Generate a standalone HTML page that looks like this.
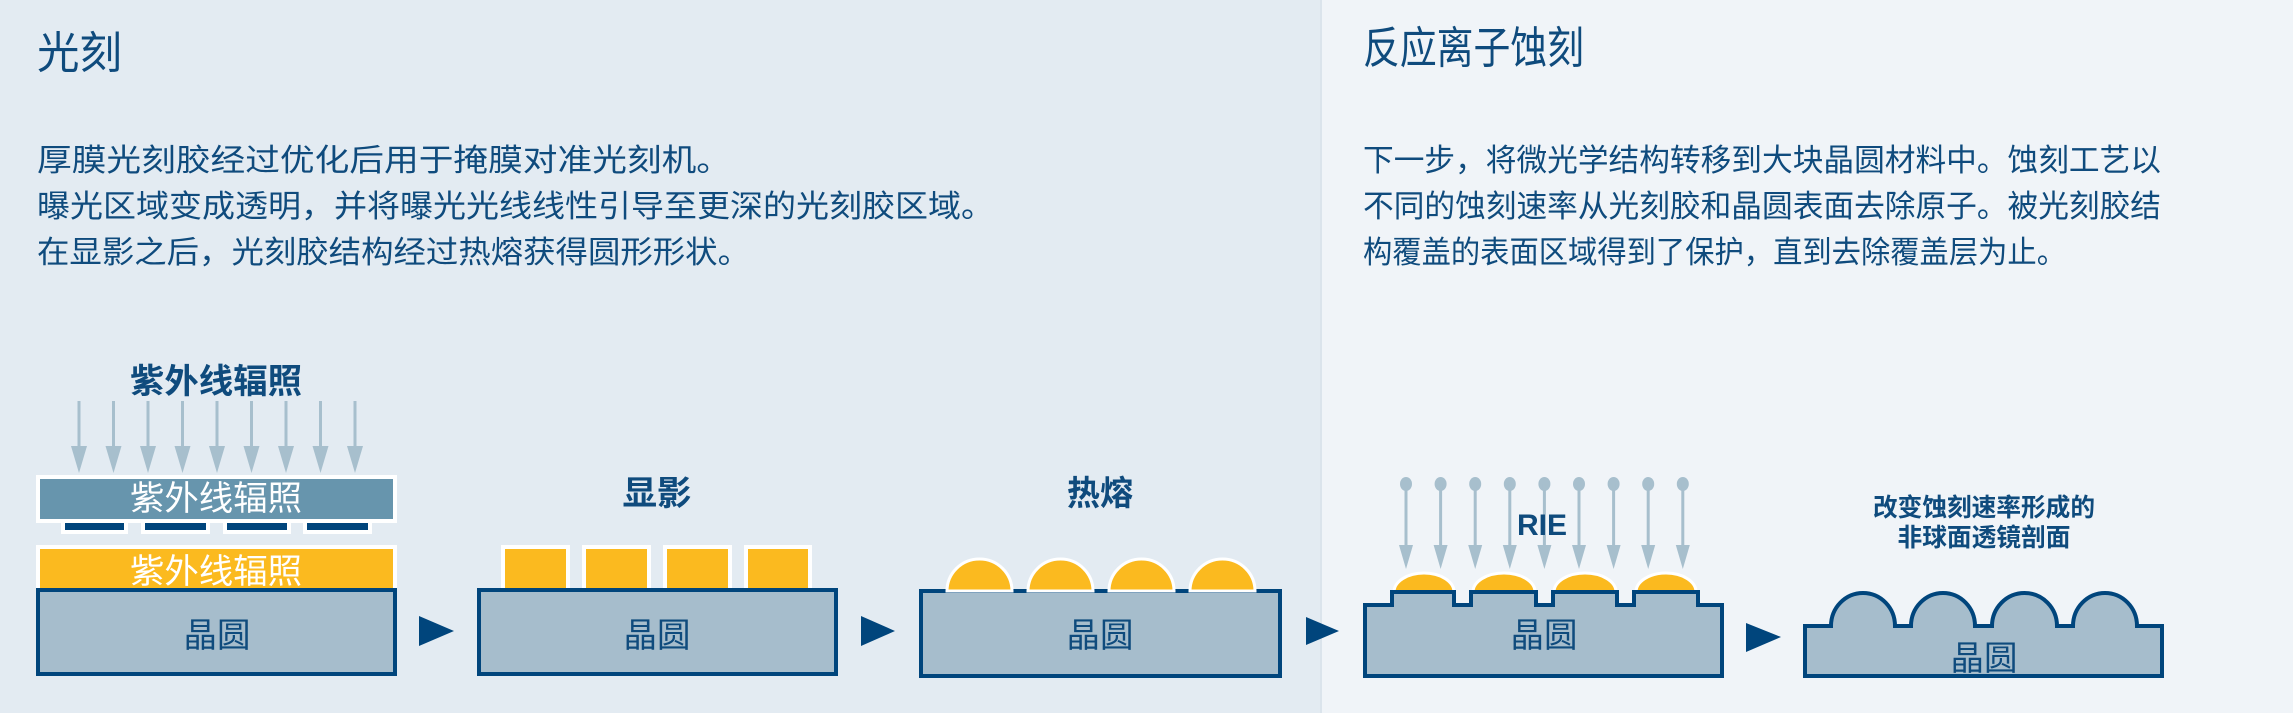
<!DOCTYPE html>
<html><head><meta charset="utf-8"><style>
html,body{margin:0;padding:0;width:2293px;height:713px;overflow:hidden}
svg{display:block}
text{font-family:"Liberation Sans","Noto Sans CJK SC",sans-serif}
</style></head><body>
<svg width="2293" height="713" viewBox="0 0 2293 713" xmlns="http://www.w3.org/2000/svg">
<rect x="0" y="0" width="1321" height="713" fill="#e3ebf2"/>
<rect x="1321" y="0" width="972" height="713" fill="#f0f4f8"/>
<rect x="1320" y="0" width="2" height="713" fill="#dbe4ec"/>

<g fill="#0f4b7d">
<text x="37" y="68" font-size="44" textLength="85" lengthAdjust="spacingAndGlyphs">光刻</text>
<text x="37" y="171" font-size="31" textLength="694" lengthAdjust="spacingAndGlyphs">厚膜光刻胶经过优化后用于掩膜对准光刻机。</text>
<text x="37" y="217" font-size="31" textLength="957" lengthAdjust="spacingAndGlyphs">曝光区域变成透明，并将曝光光线线性引导至更深的光刻胶区域。</text>
<text x="37" y="263" font-size="31" textLength="713" lengthAdjust="spacingAndGlyphs">在显影之后，光刻胶结构经过热熔获得圆形形状。</text>
<text x="1363" y="63" font-size="44" textLength="221" lengthAdjust="spacingAndGlyphs">反应离子蚀刻</text>
<text x="1363" y="171" font-size="31" textLength="798" lengthAdjust="spacingAndGlyphs">下一步，将微光学结构转移到大块晶圆材料中。蚀刻工艺以</text>
<text x="1363" y="217" font-size="31" textLength="798" lengthAdjust="spacingAndGlyphs">不同的蚀刻速率从光刻胶和晶圆表面去除原子。被光刻胶结</text>
<text x="1363" y="263" font-size="31" textLength="703" lengthAdjust="spacingAndGlyphs">构覆盖的表面区域得到了保护，直到去除覆盖层为止。</text>
</g>

<!-- Step 1 -->
<text x="216" y="393" font-size="34" font-weight="bold" fill="#0f4b7d" text-anchor="middle" textLength="172" lengthAdjust="spacingAndGlyphs">紫外线辐照</text>
<g fill="#a7bfcd" stroke="none">
<g id="uv">
<rect x="77.5" y="401" width="3" height="48"/><polygon points="71,446 87,446 79,473"/>
</g>
<use href="#uv" x="34.5"/><use href="#uv" x="69"/><use href="#uv" x="103.5"/><use href="#uv" x="138"/>
<use href="#uv" x="172.5"/><use href="#uv" x="207"/><use href="#uv" x="241.5"/><use href="#uv" x="276"/>
</g>
<rect x="36" y="475" width="361" height="48" fill="#fff"/>
<rect x="40" y="479" width="353" height="40" fill="#6795ad"/>
<text x="216" y="510" font-size="34" fill="#fff" text-anchor="middle" textLength="172" lengthAdjust="spacingAndGlyphs">紫外线辐照</text>
<g fill="#fff">
<rect x="61" y="523" width="67" height="11"/><rect x="141" y="523" width="69" height="11"/>
<rect x="223" y="523" width="68" height="11"/><rect x="303" y="523" width="69" height="11"/>
</g>
<g fill="#00457c">
<rect x="65" y="523" width="59" height="7"/><rect x="145" y="523" width="61" height="7"/>
<rect x="227" y="523" width="60" height="7"/><rect x="307" y="523" width="61" height="7"/>
</g>
<rect x="36" y="545" width="361" height="45" fill="#fff"/>
<rect x="40" y="549" width="353" height="41" fill="#fbba1f"/>
<text x="216" y="583" font-size="34" fill="#fff" text-anchor="middle" textLength="172" lengthAdjust="spacingAndGlyphs">紫外线辐照</text>
<rect x="38" y="590" width="357" height="84" fill="#a6bdcc" stroke="#00457c" stroke-width="4"/>
<text x="217" y="647" font-size="34" fill="#0f4b7d" text-anchor="middle" textLength="67" lengthAdjust="spacingAndGlyphs">晶圆</text>
<polygon points="419,616 454,631 419,646" fill="#00457c"/>

<!-- Step 2 -->
<text x="657" y="505" font-size="34" font-weight="bold" fill="#0f4b7d" text-anchor="middle" textLength="69" lengthAdjust="spacingAndGlyphs">显影</text>
<g fill="#fff">
<rect x="501" y="545" width="69" height="45"/><rect x="582" y="545" width="69" height="45"/>
<rect x="663" y="545" width="69" height="45"/><rect x="744" y="545" width="68" height="45"/>
</g>
<g fill="#fbba1f">
<rect x="505" y="549" width="61" height="41"/><rect x="586" y="549" width="61" height="41"/>
<rect x="667" y="549" width="61" height="41"/><rect x="748" y="549" width="60" height="41"/>
</g>
<rect x="479" y="590" width="357" height="84" fill="#a6bdcc" stroke="#00457c" stroke-width="4"/>
<text x="657" y="647" font-size="34" fill="#0f4b7d" text-anchor="middle" textLength="67" lengthAdjust="spacingAndGlyphs">晶圆</text>
<polygon points="861,616 895,631 861,646" fill="#00457c"/>

<!-- Step 3 -->
<text x="1100" y="505" font-size="34" font-weight="bold" fill="#0f4b7d" text-anchor="middle" textLength="66" lengthAdjust="spacingAndGlyphs">热熔</text>
<rect x="921" y="591" width="359" height="85" fill="#a6bdcc" stroke="#00457c" stroke-width="4"/>
<g fill="#fbba1f" stroke="#fff" stroke-width="3">
<path d="M947,591 A32.5,32 0 0 1 1012,591 Z"/>
<path d="M1028,591 A32.5,32 0 0 1 1093,591 Z"/>
<path d="M1109,591 A32.5,32 0 0 1 1174,591 Z"/>
<path d="M1190,591 A32.5,32 0 0 1 1255,591 Z"/>
</g>
<text x="1100" y="647" font-size="34" fill="#0f4b7d" text-anchor="middle" textLength="67" lengthAdjust="spacingAndGlyphs">晶圆</text>
<polygon points="1306,617 1339,631 1306,645" fill="#00457c"/>

<!-- Step 4 -->
<g fill="#a7bfcd">
<g id="ion">
<ellipse cx="1406" cy="484" rx="6" ry="7"/><rect x="1404.5" y="484" width="3" height="64"/><polygon points="1399,545 1413,545 1406,569"/>
</g>
<use href="#ion" x="34.6"/><use href="#ion" x="69.2"/><use href="#ion" x="103.8"/><use href="#ion" x="138.4"/>
<use href="#ion" x="173"/><use href="#ion" x="207.6"/><use href="#ion" x="242.2"/><use href="#ion" x="276.8"/>
</g>
<text x="1542" y="535" font-size="30" font-weight="bold" fill="#0f4b7d" text-anchor="middle">RIE</text>
<g fill="#fbba1f" stroke="#fff" stroke-width="3">
<path d="M1394,592 A30,19 0 0 1 1454,592 Z"/>
<path d="M1473,592 A31,19 0 0 1 1535,592 Z"/>
<path d="M1554,592 A31,19 0 0 1 1616,592 Z"/>
<path d="M1636,592 A30,19 0 0 1 1696,592 Z"/>
</g>
<path d="M1365,605 H1392 V592 H1454 V605 H1471 V592 H1536 V605 H1553 V592 H1617 V605 H1634 V592 H1698 V605 H1722 V676 H1365 Z" fill="#a6bdcc" stroke="#00457c" stroke-width="4" stroke-linejoin="miter"/>
<text x="1544" y="647" font-size="34" fill="#0f4b7d" text-anchor="middle" textLength="67" lengthAdjust="spacingAndGlyphs">晶圆</text>
<polygon points="1746,623 1781,637 1746,652" fill="#00457c"/>

<!-- Step 5 -->
<text x="1984" y="516" font-size="25" font-weight="bold" fill="#0f4b7d" text-anchor="middle" textLength="222" lengthAdjust="spacingAndGlyphs">改变蚀刻速率形成的</text>
<text x="1984" y="546" font-size="25" font-weight="bold" fill="#0f4b7d" text-anchor="middle" textLength="173" lengthAdjust="spacingAndGlyphs">非球面透镜剖面</text>
<path d="M1805,626 H1831 A32,33 0 0 1 1895,626 H1911 A32,33 0 0 1 1975,626 H1992 A32.5,33 0 0 1 2057,626 H2073 A32,33 0 0 1 2137,626 H2162 V676 H1805 Z" fill="#a6bdcc" stroke="#00457c" stroke-width="4"/>
<text x="1984" y="670" font-size="34" fill="#0f4b7d" text-anchor="middle" textLength="67" lengthAdjust="spacingAndGlyphs">晶圆</text>
</svg>
</body></html>
